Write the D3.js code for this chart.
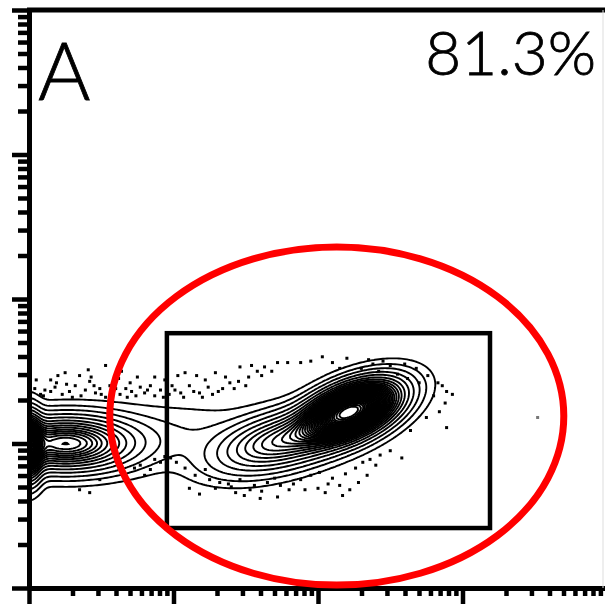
<!DOCTYPE html>
<html>
<head>
<meta charset="utf-8">
<script src="https://cdn.jsdelivr.net/npm/d3@7"></script>
<style>
  html, body { margin: 0; padding: 0; background: #fff; }
  svg { display: block; }
</style>
</head>
<body>
<svg id="chart" width="605" height="606"></svg>
<script>
// Panel label and gated percentage
const panelLabel = "A";
const gatePercent = "81.3%";

// Axis range (fluorescence intensity, 4 log decades)
const xDomain = [1, 1e4];
const yDomain = [1, 1e4];

// Density populations, positions and spreads in log10 units
// [centerX, centerY, sdMajor, sdMinor, angleDeg, weight]
const populations = [
  [2.22, 1.22, 0.19, 0.09, 23, 1.00],   // main positive population
  [1.75, 1.02, 0.25, 0.10, 15, 0.22],   // its low-intensity shoulder
  [0.25, 1.00, 0.26, 0.10, 0, 0.35],    // negative population
  [0.00, 0.98, 0.05, 0.12, 0, 0.50],    // events piled on the axis
  [0.95, 1.05, 0.50, 0.13, 0, 0.012]    // bridge between the two
];

// Contour levels as a fraction of peak density
const contourLevels = [0.004, 0.012, 0.025, 0.045, 0.07, 0.1, 0.13, 0.16, 0.19,
  0.22, 0.245, 0.27, 0.295, 0.32, 0.345, 0.37, 0.395, 0.42, 0.445, 0.47, 0.495,
  0.52, 0.545, 0.57, 0.595, 0.62, 0.645, 0.67, 0.695, 0.72, 0.745, 0.77, 0.8,
  0.83, 0.86, 0.9, 0.94];

// Outlier events outside the outer contour, log10 units [x, y]
const outlierEvents = [
  [0.53,1.54],[0.25,1.49],[0.35,1.47],[0.15,1.44],[0.19,1.42],[0.32,1.40],[0.42,1.43],
  [0.49,1.38],[0.56,1.40],[0.62,1.45],[0.70,1.42],[0.77,1.39],[0.84,1.40],[0.91,1.37],
  [0.71,1.36],[0.80,1.35],[0.46,1.35],[0.28,1.36],[0.11,1.37],[0.08,1.34],[0.94,1.44],
  [0.87,1.46],[0.64,1.50],[0.41,1.51],[0.23,1.34],[0.63,1.34],[0.53,1.32],[0.87,1.33],
  [0.04,1.38],[0.15,1.36],[0.36,1.33],[0.58,1.35],[0.74,1.33],[0.97,1.34],[0.45,1.40],
  [0.67,1.38],[0.20,1.47],[0.99,1.40],[0.05,1.44],
  [0.10,1.33],[0.18,1.39],[0.30,1.32],[0.39,1.37],[0.50,1.34],[0.60,1.38],[0.68,1.32],
  [0.82,1.37],[0.93,1.32],[1.05,1.35],[1.20,1.32],[1.31,1.36],[1.42,1.38],[1.50,1.40],
  [0.26,1.41],[0.43,1.46],[0.75,1.46],
  [1.03,1.47],[1.08,1.49],[1.16,1.47],[1.22,1.44],[1.29,1.49],[1.39,1.42],[1.34,1.38],
  [1.11,1.40],[1.01,1.37],[1.18,1.35],[1.27,1.34],[1.07,1.32],[1.46,1.53],[1.54,1.54],
  [1.63,1.53],[1.72,1.56],[1.79,1.56],[1.88,1.56],[1.52,1.46],[1.61,1.47],[1.45,1.43],
  [2.03,1.60],[2.20,1.59],[1.36,1.46],[1.14,1.36],[1.24,1.39],[1.58,1.50],[1.68,1.50],
  [1.95,1.57],[2.10,1.56],[2.35,1.58],[2.45,1.57],[2.60,1.55],[2.68,1.52],
  [2.30,1.52],[2.42,1.50],[2.55,1.48],[2.62,1.45],[2.50,1.54],[2.38,1.55],[2.15,1.52],
  [2.70,1.42],
  [1.11,0.69],[1.18,0.65],[1.29,0.69],[1.38,0.72],[1.46,0.75],[1.56,0.71],[1.65,0.73],
  [1.74,0.71],[1.83,0.72],[1.91,0.68],[2.00,0.69],[2.07,0.72],[1.72,0.63],[1.61,0.67],
  [1.25,0.75],[1.15,0.78],[1.43,0.66],[1.02,0.87],[1.08,0.83],[1.22,0.82],[1.32,0.73],
  [1.53,0.68],[1.49,0.64],[2.01,0.80],[2.10,0.76],[2.19,0.79],[2.26,0.83],[2.31,0.87],
  [2.15,0.71],[2.28,0.73],[2.36,0.89],[2.43,0.92],[2.58,0.90],[2.17,0.64],
  [1.88,0.75],[1.95,0.78],[1.70,0.76],[2.40,0.85],[2.50,0.95],
  [1.80,0.68],[2.05,0.66],[2.22,0.68],[1.60,0.62],[1.40,0.70],[2.34,0.78],
  [2.76,1.47],[2.83,1.42],[2.86,1.40],[2.89,1.36],[2.93,1.34],[2.88,1.28],[2.84,1.22],
  [2.89,1.11],[2.64,1.09],[2.80,1.33],[2.75,1.18],
  [0.63,0.87],[0.73,0.83],[0.84,0.82],[0.87,0.89],[0.94,0.91],[0.80,0.78],[0.66,0.76],
  [0.42,0.66],[0.35,0.68],[0.77,0.85],[0.91,0.87],[0.98,0.90],[0.49,0.75]
];
const faintEvents = [[3.52, 1.18]];

// Rectangular gate (intensity units)
const rectGateX = [9.0, 1550];
const rectGateY = [2.6, 58];

// Elliptical highlight: centre and radii in log10 units
const ellipseCenter = [2.13, 1.19];
const ellipseRadii = [1.571, 1.17];

const svg = d3.select("#chart");
const plotLeft = 29, plotTop = 10, plotBottom = 588, plotRight = 605;

const x = d3.scaleLog().domain(xDomain).range([plotLeft, 607]);
const y = d3.scaleLog().domain(yDomain).range([plotBottom, plotTop]);

// ---- density field on a pixel grid ----
const step = 2;
const gx0 = plotLeft, gy0 = plotTop;
const nx = Math.ceil((plotRight - gx0) / step) + 1;
const ny = Math.ceil((plotBottom - gy0) / step) + 1;
const comps = populations.map(([cx, cy, sa, sb, ang, w]) => {
  const t = ang * Math.PI / 180;
  return { cx, cy, sa, sb, c: Math.cos(t), s: Math.sin(t), w };
});
function density(u, v) {
  let d = 0;
  for (const p of comps) {
    const du = u - p.cx, dv = v - p.cy;
    const a = du * p.c + dv * p.s;
    const b = -du * p.s + dv * p.c;
    d += p.w * Math.exp(-0.5 * (a * a / (p.sa * p.sa) + b * b / (p.sb * p.sb)));
  }
  return d;
}
const values = new Float64Array(nx * ny);
let peak = 0;
for (let j = 0; j < ny; j++) {
  const v = Math.log10(y.invert(gy0 + j * step));
  for (let i = 0; i < nx; i++) {
    const u = Math.log10(x.invert(gx0 + i * step));
    const d = density(u, v);
    values[i + j * nx] = d;
    if (d > peak) peak = d;
  }
}
const contours = d3.contours().size([nx, ny])
  .thresholds(contourLevels.map(f => f * peak))(values);

svg.append("defs").append("clipPath").attr("id", "plotClip")
  .append("rect").attr("x", plotLeft).attr("y", plotTop)
  .attr("width", plotRight - plotLeft).attr("height", plotBottom - plotTop);

const proj = d3.geoIdentity().scale(step).translate([gx0 - step / 2, gy0 - step / 2]);
const path = d3.geoPath(proj);

const plot = svg.append("g").attr("clip-path", "url(#plotClip)");
plot.append("g").selectAll("path").data(contours).join("path")
  .attr("d", path)
  .attr("fill", "none")
  .attr("stroke", "#000")
  .attr("stroke-width", 1.9)
  .attr("stroke-linejoin", "miter");

// outlier events
plot.append("g").selectAll("rect").data(outlierEvents).join("rect")
  .attr("x", d => x(10 ** d[0]) - 1.5)
  .attr("y", d => y(10 ** d[1]) - 1.5)
  .attr("width", 3).attr("height", 3)
  .attr("fill", "#000");
plot.append("g").selectAll("rect").data(faintEvents).join("rect")
  .attr("x", d => x(10 ** d[0]) - 1.5)
  .attr("y", d => y(10 ** d[1]) - 1.5)
  .attr("width", 3).attr("height", 3)
  .attr("fill", "#777");

// rectangular gate
svg.append("rect")
  .attr("x", x(rectGateX[0])).attr("y", y(rectGateY[1]))
  .attr("width", x(rectGateX[1]) - x(rectGateX[0]))
  .attr("height", y(rectGateY[0]) - y(rectGateY[1]))
  .attr("fill", "none").attr("stroke", "#000").attr("stroke-width", 4.5);

// ---- axes ----
function logTicks(domain) {
  const t = [];
  for (let e = 0; e < 4; e++) for (let m = 1; m < 10; m++) t.push(m * 10 ** e);
  t.push(domain[1]);
  return t;
}
const isMajor = v => Math.abs(Math.log10(v) - Math.round(Math.log10(v))) < 1e-9;

const yAxis = svg.append("g").attr("transform", `translate(${plotLeft},0)`)
  .call(d3.axisLeft(y).tickValues(logTicks(yDomain)).tickFormat("").tickSizeOuter(0));
yAxis.selectAll(".tick line")
  .attr("x2", d => isMajor(d) ? -17 : -11)
  .attr("stroke-width", 4.5);

const xAxis = svg.append("g").attr("transform", `translate(0,${plotBottom})`)
  .call(d3.axisBottom(x).tickValues(logTicks(xDomain).filter(v => x(v) <= plotRight)).tickFormat("").tickSizeOuter(0));
xAxis.selectAll(".tick line")
  .attr("y2", d => isMajor(d) ? 16 : 8)
  .attr("stroke-width", 4.5);

[yAxis, xAxis].forEach(g => g.select(".domain").attr("stroke-width", 5));

// frame top and right
svg.append("line").attr("x1", plotLeft - 2).attr("x2", plotRight).attr("y1", plotTop).attr("y2", plotTop)
  .attr("stroke", "#000").attr("stroke-width", 5);
svg.append("line").attr("x1", 603).attr("x2", 603).attr("y1", plotTop).attr("y2", plotBottom)
  .attr("stroke", "#ddd").attr("stroke-width", 1);

// elliptical highlight
const ecx = x(10 ** ellipseCenter[0]), ecy = y(10 ** ellipseCenter[1]);
svg.append("ellipse")
  .attr("cx", ecx).attr("cy", ecy)
  .attr("rx", x(10 ** (ellipseCenter[0] + ellipseRadii[0])) - ecx)
  .attr("ry", ecy - y(10 ** (ellipseCenter[1] + ellipseRadii[1])))
  .attr("fill", "none").attr("stroke", "#ff0000").attr("stroke-width", 7);

// labels
svg.append("text").attr("x", 38).attr("y", 100)
  .attr("font-family", "Lato, 'Open Sans', sans-serif").attr("font-weight", 300)
  .attr("font-size", 80).attr("fill", "#000")
  .attr("stroke", "#000").attr("stroke-width", 0.8).text(panelLabel);
svg.append("text").attr("x", 596).attr("y", 75).attr("text-anchor", "end")
  .attr("font-family", "Lato, 'Open Sans', sans-serif").attr("font-weight", 300)
  .attr("font-size", 62).attr("fill", "#000")
  .attr("stroke", "#000").attr("stroke-width", 0.8).text(gatePercent);
</script>
</body>
</html>
